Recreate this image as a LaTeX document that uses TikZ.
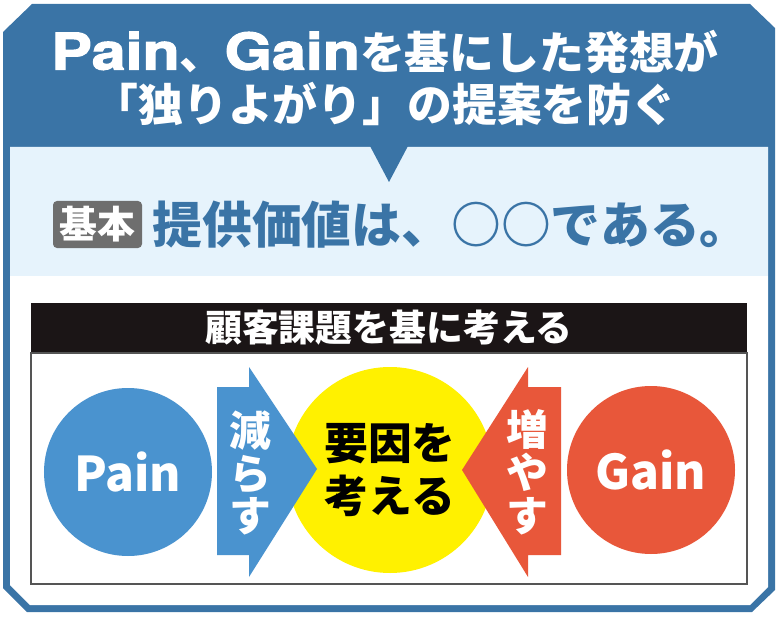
\documentclass[tikz,border=0pt]{standalone}
\usepackage{fontspec}
\setmainfont{Noto Sans CJK JP}
\newfontfamily\latinfont{texgyreheros}[Extension=.otf,UprightFont=*-bold,BoldFont=*-bold,FakeBold=2]
\usetikzlibrary{positioning}
\definecolor{HeadBlue}{HTML}{3A74A6}
\definecolor{PaleBlue}{HTML}{E6F3FC}
\definecolor{PainBlue}{HTML}{4A93CF}
\definecolor{GainRed}{HTML}{E8573A}
\definecolor{IdeaYellow}{HTML}{FFF100}
\definecolor{TagGray}{HTML}{6E6E6E}
\definecolor{BarBlack}{HTML}{1B1516}
\definecolor{BoxGray}{HTML}{555555}
\newcommand\headword[1]{{\latinfont\fontsize{51}{52}\selectfont\scalebox{1.2}[1]{#1}}}
\tikzset{
	PG-Text/.style={inner sep=0pt,font=\bfseries},
	PG-Circle/.style={circle,inner sep=0pt,minimum size=168bp,text=white,
		font=\bfseries\fontsize{48}{48}\selectfont},
	PG-Vert/.style={inner sep=0pt,align=center,text=white,
		font=\bfseries\fontsize{42}{43}\selectfont}
}

\begin{document}
\begin{tikzpicture}[x=1bp,y=-1bp]
	\useasboundingbox (0,0) rectangle (781,617);
	% frame and header
	\fill[HeadBlue] (3,32) -- (32,4) -- (750,4) -- (775,28) -- (775,590)
		-- (752,612) -- (27,612) -- (3,588) -- cycle;
	\fill[white] (10,147) -- (768,147) -- (768,587) -- (750,605)
		-- (30,605) -- (10,585) -- cycle;
	\fill[PaleBlue] (10,147) rectangle (768,276);
	\fill[HeadBlue] (370,146) -- (408,146) -- (389,182) -- cycle;
	\node[PG-Text,text=white,align=center,font=\bfseries\fontsize{45}{52}\selectfont]
		(title) at (385,78) {\headword{Pain}、\headword{Gain}を基にした発想が\\「独りよがり」の提案を防ぐ};
	% basic statement
	\node[fill=TagGray,rounded corners=4bp,inner sep=0pt,minimum width=89bp,
		minimum height=47bp,text=white,font=\bfseries\fontsize{38}{38}\selectfont]
		(tag) at (97.5,224.5) {基本};
	\node[PG-Text,text=HeadBlue,font=\bfseries\fontsize{50}{50}\selectfont,
		right=10bp of tag] (value) {提供価値は、○○である。};
	% lower part
	\node[fill=BarBlack,inner sep=0pt,minimum width=716bp,minimum height=49bp,
		text=white,font=\bfseries\fontsize{37}{37}\selectfont]
		(banner) at (389,327.5) {顧客課題を基に考える};
	\node[draw=BoxGray,line width=1.5bp,inner sep=0pt,minimum width=716bp,
		minimum height=231bp,below=0pt of banner] (stage) {};
	\node[PG-Circle,fill=PainBlue] (pain) at (128,472) {Pain};
	\node[PG-Circle,fill=GainRed] (gain) at (651,470) {Gain};
	\node[circle,fill=IdeaYellow,inner sep=0pt,minimum size=206bp,align=center,
		font=\bfseries\fontsize{44}{53}\selectfont] (idea) at (390,470) {要因を\\考える};
	% arrows
	\fill[PainBlue] (217,387) -- (249,387) -- (249,367) -- (317,469)
		-- (249,577) -- (249,555) -- (217,555) -- cycle;
	\fill[GainRed] (561,387) -- (528,387) -- (528,367) -- (462,470)
		-- (528,577) -- (528,555) -- (561,555) -- cycle;
	\node[PG-Vert] (reduce) at (250,473) {減\\ら\\す};
	\node[PG-Vert] (increase) at (527,472) {増\\や\\す};
\end{tikzpicture}
\end{document}
